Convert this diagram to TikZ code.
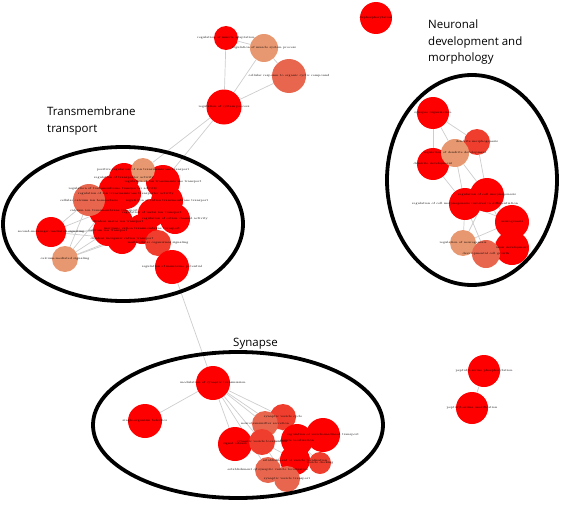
\documentclass[tikz,border=0pt]{standalone}
\usepackage{fontspec}
\usetikzlibrary{backgrounds}
\newfontfamily\grpfont{Open Sans}
\definecolor{termred}{RGB}{255,0,0}
\definecolor{termorange}{RGB}{240,62,46}
\definecolor{termcoral}{RGB}{232,102,78}
\definecolor{termsalmon}{RGB}{232,152,112}
\definecolor{edgegrey}{RGB}{205,205,205}
\newcommand{\ringTM}{(123,224) ellipse (120pt and 77pt)}
\newcommand{\ringND}{(472,180) ellipse (85pt and 105pt)}
\newcommand{\ringSY}{(238,425) ellipse (145pt and 73pt)}

\begin{document}
\begin{tikzpicture}[x=1pt,y=-1pt,
    term/.style={circle,inner sep=0pt,minimum size=#1},
    link/.style={edgegrey,line width=0.7pt},
    termtext/.style={font=\fontsize{3}{3.2}\selectfont,inner sep=0pt},
    grouptext/.style={font=\grpfont\fontsize{11.5}{16.5}\selectfont,align=left,inner sep=0pt}]
  \useasboundingbox (0,0) rectangle (567,511);

  % top group
  \node[term=24pt,fill=termred] (musad) at (226,38) {};
  \node[term=28pt,fill=termsalmon] (muspr) at (264,48) {};
  \node[term=34pt,fill=termcoral] (cyclic) at (289,76) {};
  \node[term=35pt,fill=termred] (syspr) at (224,107) {};
  \node[term=32pt,fill=termred] (dephos) at (376,18) {};

  % transmembrane transport
  \node[term=30pt,fill=termred] (trnact) at (124,178) {};
  \node[term=34pt,fill=termred] (iontm) at (163,182) {};
  \node[term=28pt,fill=termred] (tmact) at (113,189) {};
  \node[term=30pt,fill=termred] (ionact) at (126,194) {};
  \node[term=32pt,fill=termred] (cattm) at (167,201) {};
  \node[term=30pt,fill=termred] (caltm) at (104,211) {};
  \node[term=28pt,fill=termred] (metal) at (152,213) {};
  \node[term=30pt,fill=termred] (catch) at (175,219) {};
  \node[term=30pt,fill=termred] (divmet) at (118,222) {};
  \node[term=30pt,fill=termred] (calion) at (108,231) {};
  \node[term=30pt,fill=termred] (inorg) at (142,229) {};
  \node[term=30pt,fill=termred] (divin) at (122,239) {};
  \node[term=24pt,fill=termsalmon] (posion) at (143,170) {};
  \node[term=32pt,fill=termcoral] (homeo) at (89,200) {};
  \node[term=26pt,fill=termorange] (multi) at (158,243) {};
  \node[term=34pt,fill=termred] (memb) at (172,267) {};
  \node[term=30pt,fill=termred] (second) at (51,232) {};
  \node[term=26pt,fill=termsalmon] (calmed) at (65,259) {};

  % neuronal development
  \node[term=32pt,fill=termred] (synorg) at (433,113) {};
  \node[term=26pt,fill=termorange] (dmorph) at (477,142) {};
  \node[term=32pt,fill=termred] (ddev) at (433,164) {};
  \node[term=28pt,fill=termsalmon] (rdend) at (455,153) {};
  \node[term=34pt,fill=termred] (rcm) at (487,195) {};
  \node[term=32pt,fill=termred] (rcmd) at (465,204) {};
  \node[term=34pt,fill=termred] (neuro) at (512,222) {};
  \node[term=34pt,fill=termred] (axon) at (512,248) {};
  \node[term=26pt,fill=termsalmon] (rneuro) at (463,243) {};
  \node[term=28pt,fill=termcoral] (dcg) at (486,254) {};

  % synapse
  \node[term=34pt,fill=termred] (modsyn) at (213,383) {};
  \node[term=34pt,fill=termred] (behav) at (145,421) {};
  \node[term=34pt,fill=termred] (sigrel) at (235,444) {};
  \node[term=26pt,fill=termorange] (svcyc) at (283,417) {};
  \node[term=26pt,fill=termcoral] (ntsec) at (265,424) {};
  \node[term=34pt,fill=termred] (rvmt) at (323,435) {};
  \node[term=32pt,fill=termred] (vesloc) at (297,440) {};
  \node[term=26pt,fill=termorange] (svloc) at (262,442) {};
  \node[term=30pt,fill=termred] (estves) at (295,460) {};
  \node[term=22pt,fill=termorange] (vdock) at (320,463) {};
  \node[term=26pt,fill=termcoral] (esvloc) at (268,470) {};
  \node[term=26pt,fill=termcoral] (svtrans) at (287,479) {};

  % peptidyl-serine
  \node[term=32pt,fill=termred] (psp) at (484,371) {};
  \node[term=32pt,fill=termred] (psm) at (472,408) {};

  \begin{scope}[on background layer]
    \foreach \a/\b in {musad/syspr,musad/muspr,muspr/syspr,muspr/cyclic,cyclic/syspr,
        syspr/iontm,syspr/posion,memb/modsyn,memb/multi,memb/inorg,
        second/homeo,second/caltm,second/calion,second/divin,second/inorg,
        calmed/homeo,calmed/calion,calmed/divin,calmed/caltm,calmed/inorg,
        synorg/ddev,synorg/rdend,synorg/dmorph,dmorph/rdend,dmorph/rcm,rdend/ddev,
        rdend/rcmd,rdend/rcm,ddev/rcmd,rcmd/rneuro,rcmd/dcg,rcm/neuro,rcm/axon,
        rcm/rneuro,neuro/rneuro,neuro/dcg,axon/rneuro,rcmd/neuro,
        modsyn/behav,modsyn/sigrel,modsyn/ntsec,modsyn/svcyc,modsyn/svloc,
        modsyn/esvloc,modsyn/vesloc,sigrel/svloc,ntsec/svloc,vesloc/svloc,
        estves/esvloc,svtrans/estves,vdock/rvmt,vdock/vesloc,svloc/estves,
        svloc/svtrans,esvloc/vesloc,psp/psm}
      \draw[link] (\a) -- (\b);
  \end{scope}

  \draw[line width=3.8pt] \ringTM;
  \draw[line width=3.8pt] \ringND;
  \draw[line width=3.8pt] \ringSY;

  \node[grouptext,anchor=north west] (tmlab) at (47,107) {Transmembrane\\transport};
  \node[grouptext,anchor=north west] (ndlab) at (428,20) {Neuronal\\development and\\morphology};
  \node[grouptext,anchor=base west] (sylab) at (233,346) {Synapse};

  \foreach \n/\t in {musad/regulation of muscle adaptation,
      muspr/regulation of muscle system process,
      cyclic/cellular response to organic cyclic compound,
      syspr/regulation of system process,
      dephos/dephosphorylation,
      posion/positive regulation of ion transmembrane transport,
      trnact/regulation of transporter activity,
      iontm/regulation of ion transmembrane transport,
      tmact/regulation of transmembrane transporter activity,
      ionact/regulation of ion transmembrane transporter activity,
      cattm/regulation of cation transmembrane transport,
      homeo/cellular calcium ion homeostasis,
      caltm/calcium ion transmembrane transport,
      metal/regulation of metal ion transport,
      catch/regulation of cation channel activity,
      divmet/divalent metal ion transport,
      calion/calcium ion transport,
      inorg/inorganic cation transmembrane transport,
      divin/divalent inorganic cation transport,
      multi/multicellular organismal signaling,
      memb/regulation of membrane potential,
      second/second-messenger-mediated signaling,
      calmed/calcium-mediated signaling,
      synorg/synapse organization,
      dmorph/dendrite morphogenesis,
      rdend/regulation of dendrite development,
      ddev/dendrite development,
      rcm/regulation of cell morphogenesis,
      rcmd/regulation of cell morphogenesis involved in differentiation,
      neuro/neurogenesis,
      axon/axon development,
      rneuro/regulation of neurogenesis,
      dcg/developmental cell growth,
      modsyn/modulation of synaptic transmission,
      behav/single-organism behavior,
      sigrel/signal release,
      svcyc/synaptic vesicle cycle,
      ntsec/neurotransmitter secretion,
      rvmt/regulation of vesicle-mediated transport,
      vesloc/vesicle localization,
      svloc/synaptic vesicle localization,
      estves/establishment of vesicle localization,
      vdock/vesicle docking,
      esvloc/establishment of synaptic vesicle localization,
      svtrans/synaptic vesicle transport,
      psp/peptidyl-serine phosphorylation,
      psm/peptidyl-serine modification}
    \node[termtext] (\n-t) at (\n) {\t};
\end{tikzpicture}
\end{document}
